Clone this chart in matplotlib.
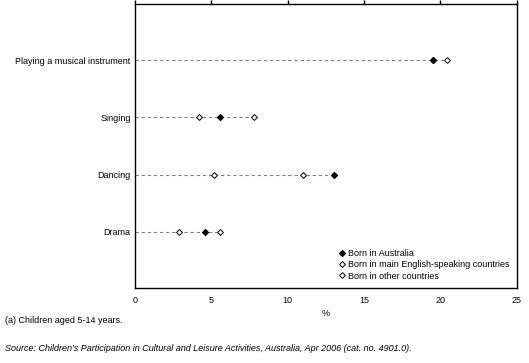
import numpy as np
import matplotlib
matplotlib.use('Agg')
import matplotlib.pyplot as plt

plt.rcParams['font.family'] = 'Liberation Sans'
plt.rcParams.update({'font.size': 6.5})

# data (%)
activities = ['Playing a musical instrument', 'Singing', 'Dancing', 'Drama']
born_australia = [19.5, 5.6, 13.0, 4.6]
born_mesc = [20.4, 7.8, 11.0, 5.6]
born_other = [19.5, 4.2, 5.2, 2.9]
series_labels = ['Born in Australia', 'Born in main English-speaking countries',
                 'Born in other countries']
xticks = [0, 5, 10, 15, 20, 25]

fig = plt.figure(figsize=(5.29, 3.63), dpi=100)
ax = fig.add_axes([0.255, 0.207, 0.722, 0.782])

ypos = np.arange(len(activities))[::-1] + 1
for i, y in enumerate(ypos):
    m = max(born_australia[i], born_mesc[i], born_other[i])
    ax.plot([0, m], [y, y], color='#808080', linestyle=(0, (3, 2.5)), linewidth=0.8, zorder=1)

ax.plot(born_mesc, ypos, linestyle='none', marker='D', markersize=3.0,
        markerfacecolor='white', markeredgecolor='black', markeredgewidth=0.7,
        label=series_labels[1], zorder=2)
ax.plot(born_other, ypos, linestyle='none', marker='D', markersize=3.0,
        markerfacecolor='white', markeredgecolor='black', markeredgewidth=0.7,
        label=series_labels[2], zorder=2)
ax.plot(born_australia, ypos, linestyle='none', marker='D', markersize=3.2,
        markerfacecolor='black', markeredgecolor='black', markeredgewidth=0.7,
        label=series_labels[0], zorder=3)

ax.set_xlim(0, 25)
ax.set_ylim(0.02, 4.98)
ax.set_xticks(xticks)
ax.set_yticks(ypos)
ax.set_yticklabels(activities)
ax.tick_params(axis='y', length=0, pad=3)
ax.tick_params(axis='x', top=True, bottom=False, direction='out', length=3,
               width=1, labelbottom=True, labeltop=False, pad=3)
for s in ax.spines.values():
    s.set_linewidth(1)
ax.set_xlabel('%', labelpad=3)

h, l = ax.get_legend_handles_labels()
order = [2, 0, 1]
ax.legend([h[k] for k in order], [l[k] for k in order], loc='lower right',
          bbox_to_anchor=(1.0, 0.0), frameon=False, handlelength=0.8,
          handletextpad=0.3, labelspacing=0.25, borderpad=0.3, fontsize=6.5)

fig.text(0.009, 0.11, '(a) Children aged 5-14 years.', fontsize=6.5)
fig.text(0.009, 0.032, "Source: Children's Participation in Cultural and Leisure Activities, "
         "Australia, Apr 2006 (cat. no. 4901.0).", fontsize=6.5, style='italic')

fig.savefig('out.png', dpi=100)
